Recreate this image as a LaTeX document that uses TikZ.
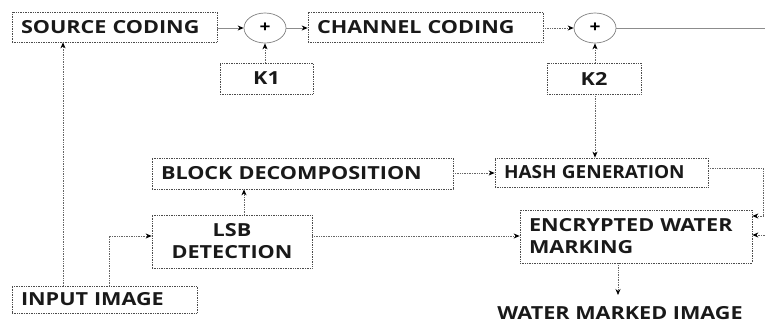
\documentclass[tikz,border=0pt]{standalone}
\usepackage{fontspec}
\usepackage{graphicx}
\setmainfont{Open Sans}[FakeStretch=1.2]
\usetikzlibrary{arrows.meta,shapes.geometric}
\tikzset{
  box/.style={draw=black!70, densely dotted, line width=0.7pt, inner xsep=9pt, inner ysep=0pt,
    font=\fontsize{18}{22}\selectfont\bfseries, text=black!90, align=left},
  sumnode/.style={draw=black!50, ellipse, line width=0.7pt, minimum width=42pt, minimum height=30pt, inner sep=0pt,
    font=\fontsize{16}{18}\selectfont\bfseries},
  conn/.style={draw=black!60, densely dotted, line width=0.7pt, -{Stealth[length=6pt,width=5pt,black]}},
  sconn/.style={draw=black!45, line width=0.8pt, -{Stealth[length=6pt,width=5pt,black]}},
}
\begin{document}
\begin{tikzpicture}[x=1pt,y=-1pt]
\useasboundingbox (0,0) rectangle (765,323);
% boxes
\node[box, text width=187pt, minimum height=30pt] (src) at (114.5,27) {\mbox{SOURCE CODING}};
\node[box, text width=217pt, minimum height=30pt] (chan) at (425.5,27) {\mbox{CHANNEL CODING}};
\node[sumnode] (s1) at (265,28) {+};
\node[sumnode] (s2) at (595,28) {+};
\node[box, align=center, text width=75pt, minimum height=31pt] (k1) at (266.5,78.5) {K1};
\node[box, align=center, text width=76pt, minimum height=31pt] (k2) at (594,78.5) {K2};
\node[box, text width=283pt, minimum height=31pt] (blk) at (302.5,173.5) {\mbox{BLOCK DECOMPOSITION}};
\node[box, text width=195pt, minimum height=29pt] (hash) at (601.5,172.5) {\scalebox{0.88}[1]{HASH GENERATION}};
\node[box, align=center, text width=142pt, minimum height=53pt] (lsb) at (232,241.5) {LSB\\DETECTION};
\node[box, text width=167pt, minimum height=27pt] (inp) at (104.5,299.5) {\mbox{INPUT IMAGE}};
\node[box, text width=214pt, minimum height=53pt] (enc) at (636,236.5) {\mbox{ENCRYPTED WATER}\\MARKING};
\node[font=\fontsize{18}{20}\selectfont\bfseries, text=black!90, anchor=base, inner sep=0pt] (out) at (620,319) {WATER MARKED IMAGE};
\coordinate (outtop) at (618,295);
\coordinate (rend) at (765,28);
\coordinate (rin) at (765,235);
% connectors
\draw[sconn] (src.east |- s1.west) -- (s1.west);
\draw[sconn] (s1.east) -- (chan.west |- s1.east);
\draw[conn] (chan.east |- s2.west) -- (s2.west);
\draw[draw=black!45, line width=0.8pt] (s2.east) -- (rend);
\draw[conn] (k1.north -| s1.south) -- (s1.south);
\draw[conn] (k2.north -| s2.south) -- (s2.south);
\draw[conn] (k2.south -| s2.south) -- (hash.north -| s2.south);
\draw[conn] ([xshift=-41.5pt]inp.north) -- ([xshift=-41.5pt]inp.north |- src.south);
\draw[conn] ([xshift=4.5pt]inp.north) |- (lsb.west |- 0,236);
\draw[conn] ([xshift=12pt]lsb.north) -- ([xshift=12pt]lsb.north |- blk.south);
\draw[conn] (blk.east |- 0,173) -- (hash.west |- 0,173);
\draw[conn] (lsb.east |- 0,236) -- (enc.west |- 0,236);
\draw[conn] (hash.east |- 0,168) -- (763,168) -- (763,216) -- (enc.east |- 0,216);
\draw[conn] (rin) -- (enc.east |- rin);
\draw[conn] (enc.south -| outtop) -- (outtop);
\end{tikzpicture}
\end{document}
